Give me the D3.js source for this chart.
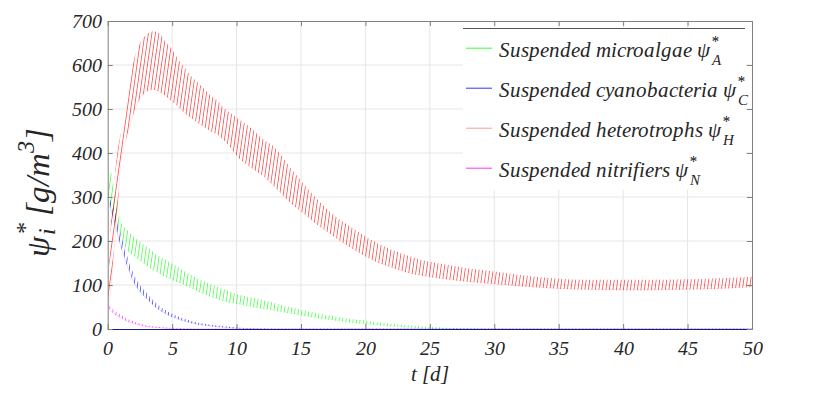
<!DOCTYPE html>
<html>
<head>
<meta charset="utf-8">
<script src="https://cdn.jsdelivr.net/npm/d3@7"></script>
<style>
@font-face { font-family: "ChartSerif"; font-style: italic; src: local("Liberation Serif Italic"), local("LiberationSerif-Italic"), local("Times New Roman Italic"); }
@font-face { font-family: "ChartSerif"; font-style: normal; src: local("Liberation Serif"), local("LiberationSerif"), local("Times New Roman"); }
body{margin:0;background:#fff}
</style>
</head>
<body>
<script>
const serifFont = '"ChartSerif", "Liberation Serif", serif';

// tick labels
const xTicks = [0, 5, 10, 15, 20, 25, 30, 35, 40, 45, 50];
const yTicks = [0, 100, 200, 300, 400, 500, 600, 700];

// envelopes of the daily oscillation (t in days, psi in g/m3)
const algaeT  = [0, 0.25, 0.5, 0.75, 1, 1.5, 2, 3, 4, 5, 6, 7, 8, 9, 10, 11, 12, 13, 14, 15, 16, 17, 18, 19, 20, 22, 24, 26, 28, 30, 50];
const algaeHi = [350, 355, 320, 280, 245, 225, 210, 187, 165, 148, 130, 114, 101, 90, 79, 72, 66, 58, 50, 43, 37, 31, 26, 22, 18, 11, 6, 3, 1, 0, 0];
const algaeLo = [290, 280, 250, 235, 215, 180, 168, 145, 127, 112, 100, 86, 74, 64, 58, 52, 47, 42, 37, 32, 27, 23, 19, 15, 12, 7, 3, 1, 0, 0, 0];

const cyanoT  = [0, 0.5, 1, 1.5, 2, 2.5, 3, 4, 5, 6, 7, 8, 9, 10, 11, 12, 13, 50];
const cyanoHi = [305, 272, 215, 165, 125, 100, 82, 52, 34, 22, 14, 9, 6, 3, 1.5, 0.5, 0, 0];
const cyanoLo = [295, 245, 190, 145, 108, 85, 70, 44, 28, 18, 11, 7, 4, 2, 1, 0.3, 0, 0];

const heteroT  = [0, 0.25, 0.5, 0.75, 1, 1.25, 1.5, 2, 2.5, 3, 3.5, 4, 4.5, 5, 5.5, 6, 6.5, 7, 7.5, 8, 8.5, 9, 9.5, 10, 11, 12, 13, 14, 15, 16, 17, 18, 19, 20, 21, 22, 23, 24, 25, 26, 28, 30, 32, 34, 36, 38, 40, 42, 44, 46, 48, 50];
const heteroHi = [52, 240, 330, 400, 440, 480, 532, 607, 649, 668, 676, 672, 652, 635, 610, 592, 573, 559, 544, 530, 519, 502, 490, 480, 459, 432, 410, 372, 336, 302, 272, 248, 229, 210, 193, 180, 169, 159, 152, 147, 137, 130, 122, 116, 112, 111, 111, 111, 112, 113, 115, 118];
const heteroLo = [48, 90, 190, 270, 370, 414, 440, 490, 524, 540, 545, 540, 530, 518, 505, 490, 480, 469, 459, 450, 443, 430, 415, 395, 370, 350, 322, 292, 268, 244, 222, 202, 183, 166, 151, 141, 131, 124, 119, 115, 108, 103, 98, 94, 91, 90, 89, 89, 90, 91, 93, 96];

const nitriT  = [0, 0.5, 1, 1.5, 2, 2.5, 3, 4, 5, 6, 7, 50];
const nitriHi = [58, 42, 32, 23, 17, 12, 8, 4, 2, 1, 0, 0];
const nitriLo = [50, 35, 26, 18, 13, 9, 6, 3, 1, 0.5, 0, 0];

const seriesNames = ["Suspended microalgae", "Suspended cyanobacteria", "Suspended heterotrophs", "Suspended nitrifiers"];
const seriesSubs = ["A", "C", "H", "N"];

const series = [
  { t: algaeT, hi: algaeHi, lo: algaeLo },
  { t: cyanoT, hi: cyanoHi, lo: cyanoLo },
  { t: heteroT, hi: heteroHi, lo: heteroLo },
  { t: nitriT, hi: nitriHi, lo: nitriLo }
];
const colors = ["#00ff00", "#0000ff", "#ff0000", "#ff00ff"];
const legendColors = ["#33ff33", "#3333ff", "#ff9999", "#ff33ff"];
const edgeOpacity = [0.2, 0.2, 0.15, 0.3];

const W = 830, H = 395;
const margin = { top: 21, right: 78, bottom: 66, left: 107.7 };
const width = W - margin.left - margin.right;
const height = H - margin.top - margin.bottom;

const svg = d3.select("body").append("svg")
  .attr("width", W)
  .attr("height", H);

const defs = svg.append("defs");
defs.append("clipPath").attr("id", "plotclip")
  .append("rect").attr("width", width).attr("height", height);

// hatch patterns mimic the dense daily oscillation
colors.forEach((c, i) => {
  const p = defs.append("pattern")
    .attr("id", "hatch" + i)
    .attr("patternUnits", "userSpaceOnUse")
    .attr("width", 3.5)
    .attr("height", 400)
    .attr("patternTransform", "skewX(-8)");
  p.append("rect")
    .attr("x", 0).attr("y", 0)
    .attr("width", 0.65).attr("height", 400)
    .attr("fill", c)
    .attr("opacity", 0.85);
});

const g = svg.append("g")
  .attr("transform", `translate(${margin.left},${margin.top})`);

const x = d3.scaleLinear().domain([0, 50]).range([0, width]);
const y = d3.scaleLinear().domain([0, 700]).range([height, 0]);

// grid
g.append("g").selectAll("line")
  .data(xTicks.slice(1, -1))
  .join("line")
  .attr("x1", d => x(d)).attr("x2", d => x(d))
  .attr("y1", 0).attr("y2", height)
  .attr("stroke", "#e6e6e6");
g.append("g").selectAll("line")
  .data(yTicks.slice(1, -1))
  .join("line")
  .attr("y1", d => y(d)).attr("y2", d => y(d))
  .attr("x1", 0).attr("x2", width)
  .attr("stroke", "#e6e6e6");

// data
const plot = g.append("g").attr("clip-path", "url(#plotclip)");
series.forEach((s, i) => {
  const pts = s.t.map((t, k) => ({ t, hi: s.hi[k], lo: s.lo[k] }));
  const area = d3.area()
    .x(d => x(d.t))
    .y0(d => y(d.lo) + 0.3)
    .y1(d => y(d.hi) - 0.3)
    .curve(d3.curveMonotoneX);
  plot.append("path")
    .datum(pts)
    .attr("d", area)
    .attr("fill", `url(#hatch${i})`);
  plot.append("path")
    .datum(pts)
    .attr("d", d3.line().x(d => x(d.t)).y(d => y(d.lo)).curve(d3.curveMonotoneX))
    .attr("fill", "none")
    .attr("stroke", colors[i])
    .attr("stroke-width", 0.6)
    .attr("opacity", edgeOpacity[i]);
});

// axes (box with inward ticks)
const axisColor = "#808080";
const xAx = g.append("g").attr("transform", `translate(0,${height})`)
  .call(d3.axisBottom(x).tickValues(xTicks).tickSizeInner(-5).tickSizeOuter(0).tickPadding(12));
const yAx = g.append("g")
  .call(d3.axisLeft(y).tickValues(yTicks).tickSizeInner(-5).tickSizeOuter(0).tickPadding(6));
const xTop = g.append("g")
  .call(d3.axisTop(x).tickValues(xTicks).tickSizeInner(-5).tickSizeOuter(0).tickFormat(""));
const yRight = g.append("g").attr("transform", `translate(${width},0)`)
  .call(d3.axisRight(y).tickValues(yTicks).tickSizeInner(-5).tickSizeOuter(0).tickFormat(""));

[xAx, yAx, xTop, yRight].forEach(a => {
  a.attr("font-family", null).attr("font-size", null);
  a.selectAll("path, line").attr("stroke", axisColor);
  a.selectAll("text")
    .style("font-family", serifFont)
    .style("font-style", "italic")
    .style("font-size", "20px")
    .style("fill", "#262626");
});
// zero baseline of the cyanobacteria sits on top of the axis
xAx.select("path").attr("stroke", "#1a1a8c");

function label(parent, x0, y0, size) {
  return parent.append("text")
    .attr("x", x0).attr("y", y0)
    .style("font-family", serifFont)
    .style("font-style", "italic")
    .style("font-size", size + "px")
    .style("fill", "#262626");
}

// x label
label(svg, margin.left + x(25), 381, 21).attr("text-anchor", "middle").text("t [d]");

// psi with stacked super/subscript, as tspans (sup first, sub pulled back under it)
function addPsi(txt, size, sup, sub, supW, subDrop) {
  const small = Math.round(size * 0.72);
  txt.append("tspan").text("ψ");
  txt.append("tspan").attr("dx", 1).attr("dy", -size * 0.5).style("font-size", small + "px").text(sup);
  txt.append("tspan").attr("dx", -supW).attr("dy", size * 0.5 + subDrop).style("font-size", small + "px").text(sub);
  return txt;
}

// y label, rotated
const ylSize = 33;
const yt = label(svg, 0, 0, ylSize)
  .attr("text-anchor", "middle")
  .attr("transform", "translate(49,192) rotate(-90)");
addPsi(yt, ylSize, "*", "i", 12, 6);
yt.append("tspan").attr("dx", 12).attr("dy", -6).text("[g/m");
yt.append("tspan").attr("dy", -15).style("font-size", "24px").text("3");
yt.append("tspan").attr("dy", 15).text("]");

// legend
const lg = svg.append("g");
lg.append("rect")
  .attr("x", 463).attr("y", 28).attr("width", 282).attr("height", 162)
  .attr("fill", "#fff");
lg.append("line")
  .attr("x1", 463).attr("x2", 745).attr("y1", 28.5).attr("y2", 28.5)
  .attr("stroke", "#555");

seriesNames.forEach((name, i) => {
  const by = 56.7 + i * 40;
  lg.append("line")
    .attr("x1", 466).attr("x2", 492)
    .attr("y1", by - 8.5).attr("y2", by - 8.5)
    .attr("stroke", legendColors[i])
    .attr("stroke-width", 1);
  const tx = label(lg, 499, by, 21);
  tx.append("tspan").text(name + "\u00a0");
  addPsi(tx, 21, "*", seriesSubs[i], 7.5, 8);
});
</script>
</body>
</html>
